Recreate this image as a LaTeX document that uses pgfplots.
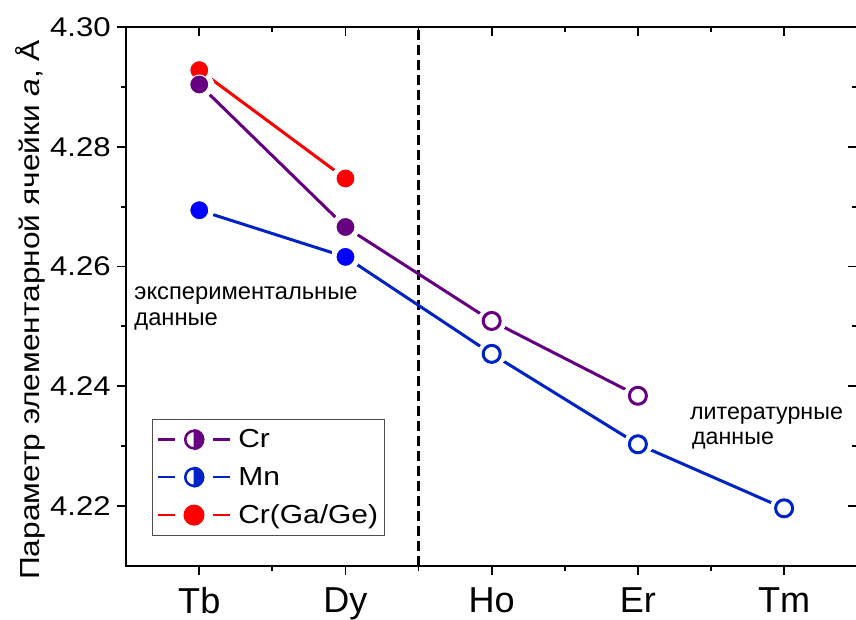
\documentclass[border=0pt]{standalone}
\usepackage{pgfplots}
\pgfplotsset{compat=1.18}
\usepackage{fontspec}
\setmainfont{Liberation Sans}
\newfontfamily\wide[FakeStretch=1.15]{Liberation Sans}
\definecolor{crpurple}{RGB}{102,0,128}
\definecolor{mnline}{RGB}{0,35,200}
\definecolor{mnfill}{RGB}{0,0,255}
\definecolor{redc}{RGB}{255,0,0}
\begin{document}
\begin{tikzpicture}
\pgfplotsset{
  base/.style={width=730pt, height=538pt, scale only axis,
    xmin=-0.5, xmax=4.5, ymin=4.21, ymax=4.30,
    axis line style={line width=2.2pt},
    every tick/.style={black, line width=1.8pt},
    major tick length=9pt, minor tick length=5pt,
    xtick={0,1,2,3,4}, ytick={4.22,4.24,4.26,4.28,4.30},
    minor x tick num=1, minor y tick num=1},
}
\begin{axis}[base, name=ax, xtick pos=left, ytick pos=left, tick align=outside,
  xticklabels={Tb,Dy,Ho,Er,Tm},
  xticklabel style={font=\fontsize{36}{42}\selectfont, yshift=-9pt},
  yticklabel style={font=\wide\fontsize{27}{32}\selectfont, xshift=-3pt, /pgf/number format/.cd, fixed, fixed zerofill, precision=2, assume math mode=true},
  ylabel={Параметр элементарной ячейки \textit{a}, Å},
  ylabel style={font=\wide\fontsize{27.5}{32}\selectfont, at={(rel axis cs:-0.1315,0.475)}, anchor=center},
  legend style={at={(rel axis cs:0.0356,0.0557)}, anchor=south west, draw=black!70, line width=1pt,
    font=\wide\fontsize{26}{30}\selectfont, row sep=14pt, column sep=5pt, inner xsep=4pt, inner ysep=8pt},
  legend cell align=left,
]
\coordinate (bl) at (rel axis cs:0,0);
\coordinate (tr) at (rel axis cs:1,1);
% dashed separator
\addplot[black, line width=3pt, dash pattern=on 10pt off 5pt, forget plot] coordinates {(1.5,4.21) (1.5,4.30)};
% lines
\addplot[redc, line width=3pt, forget plot] coordinates {(0,4.2928) (1,4.2747)};
\addplot[crpurple, line width=3pt, forget plot] coordinates {(0,4.2904) (1,4.2666) (2,4.2509) (3,4.2384)};
\addplot[mnline, line width=3pt, forget plot] coordinates {(0,4.2694) (1,4.2616) (2,4.2454) (3,4.2303) (4,4.2196)};
% gaps
\addplot[white, only marks, mark=*, mark size=14pt, mark options={fill=white, draw=white, line width=0pt}, forget plot] coordinates {
  (0,4.2928) (1,4.2747) (0,4.2904) (1,4.2666) (2,4.2509) (3,4.2384)
  (0,4.2694) (1,4.2616) (2,4.2454) (3,4.2303) (4,4.2196)};
% markers
\addplot[white, only marks, mark=*, mark size=9.5pt, mark options={fill=redc, draw=white, line width=1pt}, forget plot] coordinates {(0,4.2928) (1,4.2747)};
\addplot[white, only marks, mark=*, mark size=9.5pt, mark options={fill=mnfill, draw=white, line width=1pt}, forget plot] coordinates {(0,4.2694) (1,4.2616)};
\addplot[mnline, only marks, mark=*, mark size=8.5pt, mark options={fill=white, draw=mnline, line width=3pt}, forget plot] coordinates {(2,4.2454) (3,4.2303) (4,4.2196)};
\addplot[white, only marks, mark=*, mark size=9.5pt, mark options={fill=crpurple, draw=white, line width=1pt}, forget plot] coordinates {(0,4.2904) (1,4.2666)};
\addplot[crpurple, only marks, mark=*, mark size=8.5pt, mark options={fill=white, draw=crpurple, line width=3pt}, forget plot] coordinates {(2,4.2509) (3,4.2384)};
% legend
\addlegendimage{legend image code/.code={
  \draw[crpurple, line width=2.5pt] (0pt,0pt) -- (17pt,0pt) (55pt,0pt) -- (72pt,0pt);
  \fill[white] (36pt,0pt) circle (10pt);
  \fill[crpurple] (36pt,-10pt) arc[start angle=-90, end angle=90, radius=10pt] -- cycle;
  \draw[crpurple, line width=2.5pt] (36pt,0pt) circle (8.75pt);
}}
\addlegendentry{Cr}
\addlegendimage{legend image code/.code={
  \draw[mnline, line width=2.5pt] (0pt,0pt) -- (17pt,0pt) (55pt,0pt) -- (72pt,0pt);
  \fill[white] (36pt,0pt) circle (10pt);
  \fill[mnline] (36pt,-10pt) arc[start angle=-90, end angle=90, radius=10pt] -- cycle;
  \draw[mnline, line width=2.5pt] (36pt,0pt) circle (8.75pt);
}}
\addlegendentry{Mn}
\addlegendimage{legend image code/.code={
  \draw[redc, line width=2.5pt] (0pt,0pt) -- (17pt,0pt) (55pt,0pt) -- (72pt,0pt);
  \fill[redc] (36pt,0pt) circle (10pt);
}}
\addlegendentry{Cr(Ga/Ge)}
% annotations
\node[anchor=base west, font=\fontsize{23.7}{28}\selectfont, inner sep=0pt] at (axis cs:-0.445,4.2544) {экспериментальные};
\node[anchor=base west, font=\fontsize{23.7}{28}\selectfont, inner sep=0pt] at (axis cs:-0.445,4.2501) {данные};
\node[anchor=base west, font=\fontsize{23.2}{28}\selectfont, inner sep=0pt] at (axis cs:3.356,4.2344) {литературные};
\node[anchor=base west, font=\fontsize{23.2}{28}\selectfont, inner sep=0pt] at (axis cs:3.370,4.2302) {данные};
\end{axis}
\begin{axis}[base, xtick pos=right, ytick pos=right, tick align=inside,
  xticklabels={}, yticklabels={}]
\end{axis}
\pgfresetboundingbox
\path ([shift={(-126pt,-54pt)}]bl) rectangle ([shift={(-1.2pt,27pt)}]tr);
\end{tikzpicture}
\end{document}
